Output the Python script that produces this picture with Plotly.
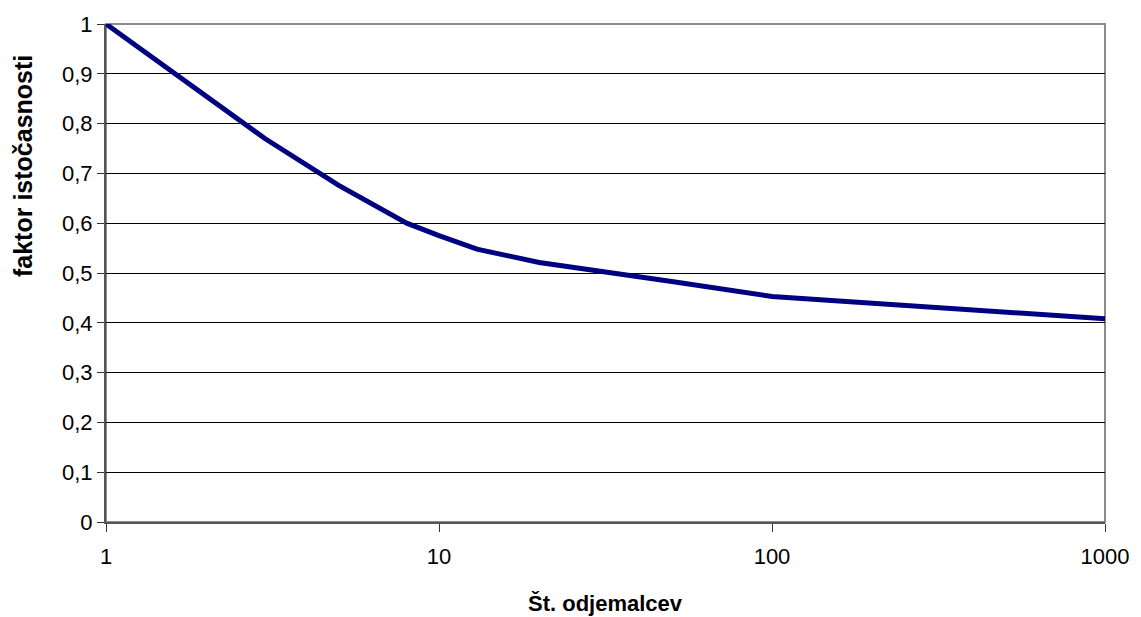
import plotly.graph_objects as go

customers = [1, 2, 3, 5, 8, 10, 13, 20, 30, 50, 100, 1000]
factor = [1.0, 0.853, 0.770, 0.676, 0.600, 0.575, 0.548, 0.521, 0.505, 0.483, 0.453, 0.408]

y_ticks = [0, 0.1, 0.2, 0.3, 0.4, 0.5, 0.6, 0.7, 0.8, 0.9, 1]
y_labels = ["0", "0,1", "0,2", "0,3", "0,4", "0,5", "0,6", "0,7", "0,8", "0,9", "1"]
x_ticks = [1, 10, 100, 1000]
x_labels = ["1", "10", "100", "1000"]

FONT = "Liberation Sans, Arial, sans-serif"

fig = go.Figure()
fig.add_trace(go.Scatter(x=customers, y=factor, mode="lines",
                         line=dict(color="#000080", width=5), showlegend=False))

fig.update_layout(
    width=1141, height=617,
    margin=dict(l=106, r=28, t=24, b=95),
    paper_bgcolor="white", plot_bgcolor="white",
    font=dict(family=FONT, size=22, color="black"),
)
fig.update_xaxes(
    type="log", range=[0, 3],
    tickvals=x_ticks, ticktext=x_labels,
    tickfont=dict(size=22),
    showgrid=False, zeroline=False,
    showline=True, linecolor="#555555", linewidth=2,
    ticks="outside", ticklen=8, tickcolor="#333333", tickwidth=1,
    ticklabelstandoff=6,
)
fig.update_yaxes(
    range=[0, 1],
    tickvals=y_ticks, ticktext=y_labels,
    tickfont=dict(size=22),
    showgrid=True, gridcolor="black", gridwidth=1, zeroline=False,
    showline=True, linecolor="#555555", linewidth=2,
    ticks="outside", ticklen=7, tickcolor="#333333", tickwidth=1,
)
# plot area border on top and right
fig.add_shape(type="rect", xref="paper", yref="paper", x0=0, y0=0, x1=1, y1=1,
              line=dict(color="#8c8c8c", width=2), layer="below")

# axis titles
fig.add_annotation(text="<b>Št. odjemalcev</b>", xref="paper", yref="paper",
                   x=0.5, y=-0.163, xanchor="center", yanchor="middle",
                   showarrow=False, font=dict(family=FONT, size=22, color="black"))
fig.add_annotation(text="<b>faktor istočasnosti</b>", xref="paper", yref="paper",
                   x=-0.083, y=0.715, xanchor="center", yanchor="middle", textangle=-90,
                   showarrow=False, font=dict(family=FONT, size=25, color="black"))

fig.write_html("out.html")
